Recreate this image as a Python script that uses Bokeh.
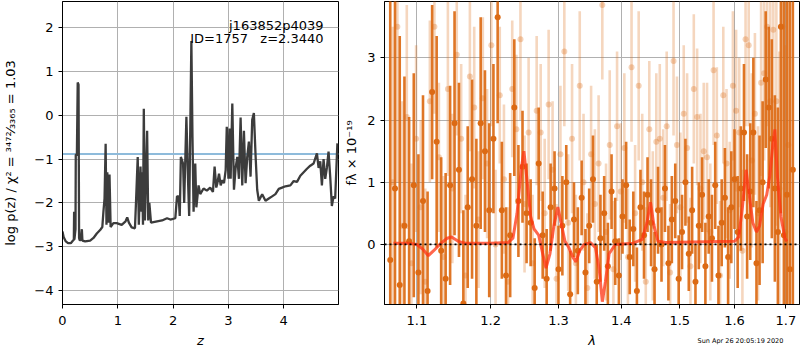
from bokeh.plotting import figure
from bokeh.layouts import row, column
from bokeh.models import Range1d, FixedTicker, Span, Label, NumeralTickFormatter, ColumnDataSource
from bokeh.embed import file_html
from bokeh.resources import INLINE

FONT = "DejaVu Sans"

# ---------------- left panel: log p(z) ----------------
z_grid = [0.00, 0.02, 0.06, 0.10, 0.15, 0.19, 0.205, 0.21, 0.215, 0.235,
          0.24, 0.26, 0.275, 0.29, 0.30, 0.31, 0.33, 0.35, 0.36, 0.41,
          0.50, 0.56, 0.62, 0.68, 0.72, 0.74, 0.76, 0.78, 0.795, 0.81,
          0.83, 0.85, 0.87, 0.92, 0.98, 1.07, 1.14, 1.17, 1.20, 1.25,
          1.31, 1.33, 1.36, 1.38, 1.41, 1.43, 1.44, 1.455, 1.47, 1.49,
          1.53, 1.55, 1.57, 1.60, 1.71, 1.80, 1.89, 1.95, 2.04, 2.07,
          2.10, 2.12, 2.14, 2.18, 2.20, 2.24, 2.27, 2.29, 2.33, 2.35,
          2.37, 2.40, 2.42, 2.46, 2.49, 2.55, 2.61, 2.67, 2.72, 2.75,
          2.78, 2.80, 2.83, 2.86, 2.89, 2.92, 2.95, 2.97, 3.00, 3.02,
          3.04, 3.07, 3.10, 3.13, 3.16, 3.19, 3.22, 3.25, 3.28, 3.31,
          3.34, 3.37, 3.40, 3.43, 3.46, 3.49, 3.52, 3.55, 3.61, 3.67,
          3.73, 3.79, 3.85, 3.91, 3.97, 4.03, 4.12, 4.18, 4.24, 4.30,
          4.36, 4.42, 4.48, 4.54, 4.60, 4.63, 4.66, 4.69, 4.72, 4.75,
          4.78, 4.81, 4.84, 4.87, 4.90, 4.93, 4.97]
log_pz = [-2.65, -2.78, -2.88, -2.92, -2.92, -2.86, -2.84, -2.2, -2.84, -2.6,
          -0.9, -0.9, 0.75, 0.7, -2.8, -2.85, -2.85, -2.6, -2.86, -2.88,
          -2.86, -2.8, -2.7, -2.62, -2.55, -2.2, -1.9, -0.65, -2.5, -1.3,
          -2.45, -1.35, -2.55, -2.46, -2.46, -2.5, -2.42, -2.33, -2.45, -2.56,
          -2.58, -1.95, -0.95, -2.5, -1.17, -2.2, -1.3, -2.5, 0.15, -2.4,
          -0.35, -2.4, -2.0, -2.45, -2.42, -2.4, -2.35, -2.38, -2.35, -1.85,
          -1.85, -2.3, -0.95, -1.1, -2.0, -0.03, -1.5, -2.3, 1.7, -0.5,
          -2.2, -1.1, -2.1, -1.6, -1.8, -1.67, -1.72, -1.65, -1.75, -1.17,
          -1.65, -1.55, -1.33, -1.6, -1.48, -1.55, -1.25, -0.26, -1.45, -0.3,
          -1.45, 0.27, -1.7, -1.2, -0.95, -1.45, -0.05, -1.6, -0.35, -1.55,
          -0.95, -0.6, -1.4, -0.1, 0.05, -0.9, -1.7, -1.95, -1.8, -1.95,
          -1.9, -1.85, -1.8, -1.68, -1.65, -1.62, -1.6, -1.5, -1.52, -1.38,
          -1.3, -1.22, -1.15, -1.1, -0.87, -1.2, -1.05, -1.6, -1.0, -1.45,
          -1.2, -0.83, -1.4, -2.07, -1.85, -1.9, -0.64]
pz_level = -0.88
z_ticks = [0, 1, 2, 3, 4]
logp_ticks = [-4, -3, -2, -1, 0, 1, 2]
obj_name = "j163852p4039"
obj_info = "ID=1757\u00a0\u00a0\u00a0z=2.3440"
chi2_label = "log p(z) / χ² = ³⁴⁷²⁄₃₃₆₅ = 1.03"

# ---------------- right panel: spectrum ----------------
dark_wave = [1.066, 1.072, 1.078, 1.084, 1.090, 1.096, 1.102, 1.108, 1.114, 1.120,
             1.126, 1.132, 1.138, 1.144, 1.150, 1.156, 1.162, 1.168, 1.174, 1.180,
             1.186, 1.192, 1.198, 1.204, 1.210, 1.216, 1.222, 1.228, 1.234, 1.240,
             1.246, 1.252, 1.258, 1.264, 1.270, 1.276, 1.282, 1.288, 1.294, 1.300,
             1.306, 1.312, 1.318, 1.324, 1.330, 1.336, 1.342, 1.348, 1.354, 1.360,
             1.366, 1.372, 1.378, 1.384, 1.390, 1.396, 1.402, 1.408, 1.414, 1.420,
             1.426, 1.432, 1.438, 1.444, 1.450, 1.456, 1.462, 1.468, 1.474, 1.480,
             1.486, 1.492, 1.498, 1.504, 1.510, 1.516, 1.522, 1.528, 1.534, 1.540,
             1.546, 1.552, 1.558, 1.564, 1.570, 1.576, 1.582, 1.588, 1.594, 1.600,
             1.606, 1.612, 1.618, 1.624, 1.630, 1.636, 1.642, 1.648, 1.654, 1.660,
             1.666, 1.672, 1.678, 1.684, 1.690, 1.696, 1.702, 1.708, 1.714]
dark_flux = [-0.25, 0.9, -0.65, 0.3, 0.05, 0.95, -0.45, 0.7, -0.75, 2.45,
             1.65, -0.1, -0.55, 0.95, 1.95, 1.2, -0.95, 0.6, 1.05, 0.3,
             1.95, 1.5, 0.55, 1.7, 3.65, 0.55, -0.5, 0.15, 2.2, 0.7,
             1.25, 0.5, 0.35, -0.7, 1.3, 0.15, -0.55, 0.6, 0.9, -0.4,
             0.3, 1.0, -0.8, 0.4, -0.1, 0.75, -0.45, 0.3, 1.05, -0.6,
             0.1, 0.5, -0.35, 0.85, 0.05, -0.5, 0.45, 0.95, -0.2, 0.25,
             -0.75, 0.6, 0.15, 0.8, 0.35, -0.4, 0.55, 0.0, 0.9, -0.3,
             0.4, 0.7, -0.55, 0.2, 1.0, -0.15, 0.55, -0.6, 0.3, 0.8,
             -0.35, 0.45, 0.1, 0.95, -0.5, 0.35, 0.75, -0.2, 0.6, 1.05,
             0.2, 0.9, 1.8, 0.45, 0.85, 1.8, -0.3, 0.55, 1.0, 2.65,
             2.2, 1.7, 0.9, 0.2, 3.5, 0.15, 0.8, -0.4, 1.2]
dark_err = [5, 5, 4, 2.4, 2.0, 1.8, 1.9, 1.7, 1.6, 1.4,
            1.7, 1.5, 1.7, 1.6, 1.8, 1.4, 1.5, 1.3, 1.6, 1.4,
            1.7, 1.3, 1.4, 1.2, 1.7, 1.1, 1.1, 1.0, 1.1, 0.9,
            0.9, 0.8, 0.7, 0.8, 0.9, 0.7, 0.8, 0.7, 0.6, 0.7,
            0.8, 0.6, 0.7, 0.6, 0.7, 0.6, 0.7, 0.6, 0.7, 0.6,
            0.7, 0.6, 0.7, 0.6, 0.7, 0.6, 0.6, 0.7, 0.6, 0.6,
            0.7, 0.6, 0.7, 0.6, 0.7, 0.6, 0.7, 0.6, 0.7, 0.6,
            0.7, 0.6, 0.7, 0.6, 0.7, 0.6, 0.7, 0.6, 0.7, 0.6,
            0.7, 0.6, 0.7, 0.7, 0.8, 0.7, 0.8, 0.8, 0.9, 0.8,
            0.9, 1.0, 1.1, 1.0, 1.1, 1.2, 1.0, 1.2, 1.3, 1.1,
            1.3, 1.6, 1.5, 2.0, 3, 5, 5, 5, 5]

light_wave = [1.069, 1.075, 1.081, 1.087, 1.093, 1.099, 1.105, 1.111, 1.117, 1.123,
              1.129, 1.135, 1.141, 1.147, 1.153, 1.159, 1.165, 1.171, 1.177, 1.183,
              1.189, 1.195, 1.201, 1.207, 1.213, 1.219, 1.225, 1.231, 1.237, 1.243,
              1.249, 1.255, 1.261, 1.267, 1.273, 1.279, 1.285, 1.291, 1.297, 1.303,
              1.309, 1.315, 1.321, 1.327, 1.333, 1.339, 1.345, 1.351, 1.357, 1.363,
              1.369, 1.375, 1.381, 1.387, 1.393, 1.399, 1.405, 1.411, 1.417, 1.423,
              1.429, 1.435, 1.441, 1.447, 1.453, 1.459, 1.465, 1.471, 1.477, 1.483,
              1.489, 1.495, 1.501, 1.507, 1.513, 1.519, 1.525, 1.531, 1.537, 1.543,
              1.549, 1.555, 1.561, 1.567, 1.573, 1.579, 1.585, 1.591, 1.597, 1.603,
              1.609, 1.615, 1.621, 1.627, 1.633, 1.639, 1.645, 1.651, 1.657, 1.663,
              1.669, 1.675, 1.681, 1.687, 1.693, 1.699, 1.705]
light_flux = [1.0, 3.5, 0.3, 2.05, -0.3, 1.7, 0.6, -0.6, 2.3, 3.5,
              1.4, -0.2, 2.5, 0.9, 3.05, 1.7, -0.5, 2.7, 2.2, 0.4,
              2.35, 1.3, 3.2, 0.0, 2.4, 1.05, -0.6, 2.5, 1.85, 3.3,
              0.65, 1.8, -0.3, 2.15, 1.8, 0.5, 2.25, 1.2, -0.55, 1.45,
              3.1, 0.35, 1.7, -0.3, 2.55, 1.0, -0.7, 1.45, 0.65, 1.3,
              3.85, 0.2, 1.6, -0.4, 1.9, 0.85, 1.55, -0.2, 2.85, 0.5,
              2.55, 1.0, -0.6, 1.85, 0.3, 1.65, 1.7, 0.75, 1.9, -0.45,
              2.95, 1.6, 0.6, 2.1, 1.55, -0.35, 2.5, 2.05, 0.9, 1.5,
              1.4, 0.2, 2.8, 1.75, -0.5, 2.4, 1.3, 0.55, 2.55, 2.15,
              1.8, -0.1, 3.3, 3.2, 1.35, 2.1, 0.5, 2.6, 2.75, 3.5,
              2.3, 3.45, 2.3, 0.9, 3.5, 0.2, 1.6]
light_err = [2.5, 2.5, 2.0, 1.8, 1.6, 1.5, 1.4, 1.5, 1.3, 1.4,
             1.2, 1.3, 1.4, 1.2, 1.3, 1.2, 1.3, 1.2, 1.3, 1.1,
             1.3, 1.2, 1.3, 1.2, 1.1, 1.2, 1.2, 1.1, 1.2, 1.3,
             1.1, 1.2, 1.1, 1.2, 1.1, 1.2, 1.2, 1.1, 1.2, 1.1,
             1.2, 1.1, 1.2, 1.1, 1.2, 1.1, 1.2, 1.1, 1.2, 1.1,
             1.2, 1.1, 1.2, 1.1, 1.2, 1.1, 1.2, 1.1, 1.2, 1.1,
             1.2, 1.1, 1.2, 1.1, 1.2, 1.1, 1.2, 1.1, 1.2, 1.1,
             1.2, 1.1, 1.2, 1.1, 1.2, 1.1, 1.2, 1.1, 1.2, 1.1,
             1.2, 1.1, 1.2, 1.1, 1.2, 1.1, 1.2, 1.1, 1.2, 1.3,
             1.2, 1.3, 1.4, 1.3, 1.4, 1.3, 1.4, 1.5, 1.4, 1.6,
             1.7, 1.8, 2.0, 2.2, 2.5, 3, 3]

model_wave = [1.07, 1.09, 1.10, 1.108, 1.115, 1.122, 1.13, 1.14, 1.146, 1.155,
              1.165, 1.20, 1.225, 1.232, 1.238, 1.244, 1.248, 1.252, 1.258, 1.263,
              1.27, 1.275, 1.281, 1.287, 1.293, 1.299, 1.305, 1.31, 1.316, 1.322,
              1.327, 1.333, 1.34, 1.35, 1.358, 1.364, 1.369, 1.374, 1.38, 1.39,
              1.42, 1.435, 1.443, 1.449, 1.455, 1.462, 1.475, 1.60, 1.608, 1.615,
              1.622, 1.628, 1.635, 1.642, 1.648, 1.655, 1.662, 1.668, 1.674, 1.678,
              1.683, 1.69, 1.698, 1.702]
model_flux = [0.02, 0.02, 0.0, -0.08, -0.18, -0.1, 0.0, 0.1, 0.12, 0.05,
              0.02, 0.02, 0.03, 0.1, 0.5, 1.2, 1.5, 1.1, 0.45, 0.25,
              0.15, -0.1, -0.38, -0.15, 0.3, 0.6, 0.3, 0.05, -0.05, -0.2,
              -0.28, -0.1, 0.0, 0.03, -0.05, -0.4, -0.92, -0.6, -0.15, 0.0,
              0.02, 0.08, 0.35, 0.68, 0.3, 0.05, 0.03, 0.05, 0.12, 0.6,
              1.2, 0.8, 0.35, 0.2, 0.3, 0.65, 0.8, 1.1, 1.6, 1.85,
              1.1, 0.45, 0.1, 0.05]
wave_ticks = [1.1, 1.2, 1.3, 1.4, 1.5, 1.6, 1.7]
flux_ticks = [0, 1, 2, 3]
timestamp = "Sun Apr 26 20:05:19 2020"

ORANGE = "#dc6a14"


def style(p):
    p.outline_line_color = "black"
    p.outline_line_width = 1
    p.outline_line_alpha = 1
    p.background_fill_color = "white"
    p.border_fill_color = "white"
    for ax in p.axis:
        ax.axis_line_color = "black"
        ax.major_tick_out = 4
        ax.major_tick_in = 0
        ax.minor_tick_out = 0
        ax.minor_tick_in = 0
        ax.major_label_text_font = FONT
        ax.major_label_text_font_size = "13px"
        ax.major_label_text_color = "black"
        ax.axis_label_text_font = FONT
        ax.axis_label_text_font_size = "13px"
        ax.axis_label_text_color = "black"
    for g in p.grid:
        g.grid_line_color = "#b0b0b0"
        g.grid_line_width = 1


# ---- left figure
p1 = figure(width=340, height=350, x_range=Range1d(0, 4.99), y_range=Range1d(-4.32, 2.6),
            output_backend="svg", toolbar_location=None,
            min_border_left=62, min_border_right=2, min_border_top=1, min_border_bottom=46)
style(p1)
p1.xaxis.ticker = FixedTicker(ticks=z_ticks, minor_ticks=[])
p1.yaxis.ticker = FixedTicker(ticks=logp_ticks, minor_ticks=[])
p1.yaxis.major_label_overrides = {t: (str(t).replace("-", "\u2212")) for t in logp_ticks}
p1.xaxis.major_label_standoff = 7
p1.xaxis.axis_label = "z"
p1.xaxis.axis_label_text_font_style = "italic"
p1.xaxis.axis_label_standoff = 5
p1.yaxis.axis_label = chi2_label
p1.yaxis.axis_label_text_font_style = "normal"
p1.yaxis.axis_label_standoff = 13

span = Span(location=pz_level, dimension="width", line_color="#8ebbdb", line_width=2, level="underlay")
p1.add_layout(span)
p1.line(z_grid, log_pz, line_color="#3c3c3c", line_width=2.3)

p1.add_layout(Label(x=4.72, y=2.052, text=obj_name, text_align="right", text_baseline="alphabetic",
                    text_font=FONT, text_font_size="13px", text_color="black"))
p1.add_layout(Label(x=4.72, y=1.748, text=obj_info, text_align="right", text_baseline="alphabetic",
                    text_font=FONT, text_font_size="13px", text_color="black"))

# ---- right figure
p2 = figure(width=460, height=330, x_axis_type="log",
            x_range=Range1d(1.0588, 1.7275), y_range=Range1d(-0.965, 3.905),
            output_backend="svg", toolbar_location=None,
            min_border_left=44, min_border_right=1, min_border_top=1, min_border_bottom=26)
style(p2)
p2.xaxis.ticker = FixedTicker(ticks=wave_ticks, minor_ticks=[])
p2.xaxis.formatter = NumeralTickFormatter(format="0.0")
p2.xaxis.major_label_standoff = 7
p2.yaxis.ticker = FixedTicker(ticks=flux_ticks, minor_ticks=[])
p2.yaxis.axis_label = "fλ × 10⁻¹⁹"
p2.yaxis.axis_label_text_font_style = "normal"
p2.yaxis.axis_label_standoff = 5

light_src = ColumnDataSource(dict(
    x=light_wave, y=light_flux,
    lo=[f - e for f, e in zip(light_flux, light_err)],
    hi=[f + e for f, e in zip(light_flux, light_err)]))
dark_src = ColumnDataSource(dict(
    x=dark_wave, y=dark_flux,
    lo=[f - e for f, e in zip(dark_flux, dark_err)],
    hi=[f + e for f, e in zip(dark_flux, dark_err)]))

p2.segment(x0="x", y0="lo", x1="x", y1="hi", source=light_src, line_color=ORANGE, line_alpha=0.28, line_width=2.6)
p2.scatter("x", "y", source=light_src, size=6, fill_color=ORANGE, fill_alpha=0.3, line_alpha=0)
p2.segment(x0="x", y0="lo", x1="x", y1="hi", source=dark_src, line_color=ORANGE, line_alpha=0.92, line_width=2.6)
p2.scatter("x", "y", source=dark_src, size=6, fill_color=ORANGE, fill_alpha=1.0, line_alpha=0)
p2.line(model_wave, model_flux, line_color="#ff3311", line_alpha=0.75, line_width=3)

zero = Span(location=0, dimension="width", line_color="black", line_width=1.8, line_dash="2 3")
p2.add_layout(zero)

# ---- strip under the right panel: x label and timestamp (frame aligned with p2's frame)
p3 = figure(width=460, height=20, x_range=Range1d(44, 459), y_range=Range1d(0, 20),
            output_backend="svg", toolbar_location=None,
            x_axis_location=None, y_axis_location=None,
            min_border_left=44, min_border_right=1, min_border_top=0, min_border_bottom=0)
p3.grid.visible = False
p3.outline_line_color = None
p3.background_fill_color = "white"
p3.border_fill_color = "white"
p3.add_layout(Label(x=251.5, y=10, text="λ", text_align="center", text_baseline="middle",
                    text_font=FONT, text_font_size="13px", text_font_style="italic", text_color="black"))
p3.add_layout(Label(x=357, y=9.5, text=timestamp, text_align="left", text_baseline="alphabetic",
                    text_font=FONT, text_font_size="6.5px", text_color="black"))

layout = row(p1, column(p2, p3))
open("out.html", "w").write(file_html(layout, INLINE))
